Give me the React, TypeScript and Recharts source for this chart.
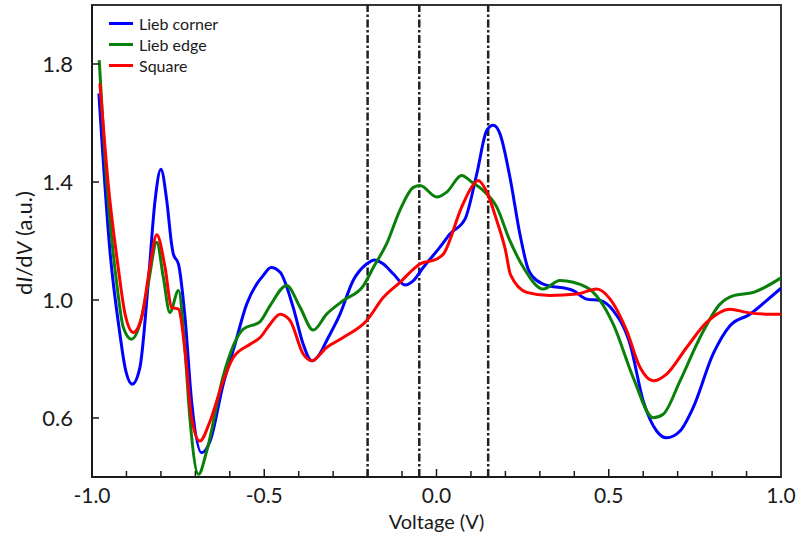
import React from 'react';
import { LineChart, Line, XAxis, YAxis, ReferenceLine, ReferenceArea } from 'recharts';

// voltage (V) / dI/dV (a.u.) pairs
const cornerV = [-0.98, -0.948, -0.919, -0.904, -0.883, -0.861, -0.837, -0.817, -0.8, -0.783, -0.769, -0.764, -0.749, -0.73, -0.711, -0.682, -0.657, -0.619, -0.585, -0.551, -0.522, -0.505, -0.48, -0.454, -0.416, -0.387, -0.362, -0.34, -0.319, -0.28, -0.242, -0.203, -0.179, -0.154, -0.125, -0.091, -0.067, -0.038, 0.01, 0.039, 0.083, 0.117, 0.146, 0.165, 0.184, 0.213, 0.242, 0.266, 0.281, 0.31, 0.397, 0.436, 0.475, 0.513, 0.562, 0.6, 0.639, 0.668, 0.707, 0.745, 0.803, 0.852, 0.91, 0.958, 1.0];
const cornerY = [1.7, 1.167, 0.885, 0.771, 0.715, 0.771, 1.054, 1.337, 1.443, 1.337, 1.19, 1.156, 1.122, 0.941, 0.658, 0.482, 0.522, 0.715, 0.85, 0.986, 1.054, 1.08, 1.11, 1.094, 0.975, 0.85, 0.794, 0.815, 0.862, 0.952, 1.066, 1.122, 1.136, 1.122, 1.088, 1.051, 1.066, 1.111, 1.179, 1.224, 1.275, 1.428, 1.575, 1.592, 1.564, 1.417, 1.224, 1.105, 1.077, 1.054, 1.032, 1.003, 0.998, 0.964, 0.85, 0.658, 0.556, 0.533, 0.556, 0.635, 0.817, 0.913, 0.952, 0.998, 1.04];

const edgeV = [-0.979, -0.957, -0.928, -0.909, -0.885, -0.861, -0.837, -0.812, -0.793, -0.774, -0.749, -0.73, -0.716, -0.691, -0.667, -0.619, -0.561, -0.512, -0.483, -0.435, -0.396, -0.358, -0.319, -0.271, -0.212, -0.183, -0.145, -0.106, -0.067, -0.048, 0.001, 0.03, 0.073, 0.102, 0.136, 0.175, 0.213, 0.252, 0.31, 0.358, 0.436, 0.475, 0.513, 0.571, 0.629, 0.658, 0.707, 0.765, 0.823, 0.862, 0.92, 1.0];
const edgeY = [1.813, 1.394, 1.054, 0.907, 0.867, 0.918, 1.054, 1.196, 1.077, 0.958, 1.032, 0.828, 0.601, 0.409, 0.488, 0.743, 0.901, 0.927, 0.981, 1.049, 0.975, 0.898, 0.952, 0.998, 1.049, 1.111, 1.19, 1.305, 1.382, 1.388, 1.349, 1.366, 1.422, 1.4, 1.371, 1.315, 1.201, 1.111, 1.037, 1.066, 1.043, 0.998, 0.918, 0.737, 0.601, 0.613, 0.726, 0.873, 0.986, 1.015, 1.026, 1.075];

const squareV = [-0.977, -0.953, -0.924, -0.904, -0.88, -0.856, -0.832, -0.812, -0.788, -0.769, -0.749, -0.73, -0.711, -0.687, -0.657, -0.619, -0.59, -0.541, -0.512, -0.483, -0.454, -0.425, -0.387, -0.362, -0.319, -0.271, -0.203, -0.154, -0.106, -0.048, 0.001, 0.02, 0.073, 0.102, 0.121, 0.146, 0.175, 0.2, 0.215, 0.262, 0.329, 0.407, 0.465, 0.504, 0.552, 0.591, 0.629, 0.668, 0.726, 0.784, 0.852, 0.9, 0.958, 1.0];
const squareY = [1.734, 1.394, 1.111, 0.952, 0.89, 0.941, 1.111, 1.221, 1.111, 0.975, 0.969, 0.828, 0.601, 0.522, 0.59, 0.726, 0.805, 0.85, 0.873, 0.918, 0.952, 0.93, 0.817, 0.794, 0.839, 0.873, 0.93, 1.009, 1.06, 1.122, 1.139, 1.156, 1.315, 1.383, 1.405, 1.366, 1.269, 1.17, 1.085, 1.026, 1.015, 1.02, 1.037, 1.003, 0.896, 0.771, 0.726, 0.749, 0.839, 0.924, 0.969, 0.958, 0.952, 0.952];

const markers = [-0.2, -0.05, 0.15];
const xTicks = [-1, -0.9, -0.8, -0.7, -0.6, -0.5, -0.4, -0.3, -0.2, -0.1, 0, 0.1, 0.2, 0.3, 0.4, 0.5, 0.6, 0.7, 0.8, 0.9, 1];
const xLabels = [-1, -0.5, 0, 0.5, 1];
const yTicks = [0.6, 1.0, 1.4, 1.8];

const zip = (vs: number[], ys: number[]) => vs.map((v, i) => ({ v, y: ys[i] }));

const series = [
  { name: 'Lieb corner', color: '#0000ff', data: zip(cornerV, cornerY) },
  { name: 'Lieb edge', color: '#0a800a', data: zip(edgeV, edgeY) },
  { name: 'Square', color: '#ff0000', data: zip(squareV, squareY) },
];

const FONT = 'Lato, "Open Sans", sans-serif';
const INK = '#1a1a1a';

const XTick = (props: any) => {
  const { x, y, payload } = props;
  const v = payload.value;
  const major = xLabels.some((m) => Math.abs(m - v) < 1e-6);
  const edge = Math.abs(Math.abs(v) - 1) < 1e-6;
  return (
    <g>
      {!edge && <line x1={x} x2={x} y1={y} y2={y - (major ? 8 : 6)} stroke={INK} strokeWidth={1.5} />}
      {major && (
        <text x={x} y={y + 26} textAnchor="middle" fontSize={21} fill={INK} fontFamily={FONT}>
          {v.toFixed(1)}
        </text>
      )}
    </g>
  );
};

const YTick = (props: any) => {
  const { x, y, payload } = props;
  return (
    <g>
      <line x1={x} x2={x + 7} y1={y} y2={y} stroke={INK} strokeWidth={1.5} />
      <text x={x - 19} y={y + 8} textAnchor="end" fontSize={22} fill={INK} fontFamily={FONT}>
        {payload.value.toFixed(1)}
      </text>
    </g>
  );
};

const XLabel = (props: any) => {
  const { x, y, width } = props.viewBox;
  return (
    <text x={x + width / 2} y={y + 52} textAnchor="middle" fontSize={20} fill={INK} fontFamily={FONT}>
      Voltage (V)
    </text>
  );
};

const YLabel = (props: any) => {
  const { y, height } = props.viewBox;
  const cy = y + height / 2 + 2;
  return (
    <text
      x={23}
      y={cy}
      transform={`rotate(-90, 23, ${cy})`}
      textAnchor="middle"
      dominantBaseline="central"
      fontSize={22}
      fill={INK}
      fontFamily={FONT}
    >
      d<tspan fontStyle="italic">I</tspan>/d<tspan fontStyle="italic">V</tspan> (a.u.)
    </text>
  );
};

const LegendBox = () => (
  <div
    style={{
      position: 'absolute',
      left: 109,
      top: 13,
      fontFamily: FONT,
      fontSize: 16,
      color: INK,
      lineHeight: '21px',
    }}
  >
    {series.map((s) => (
      <div key={s.name} style={{ display: 'flex', alignItems: 'center' }}>
        <span style={{ display: 'inline-block', width: 24, height: 3, background: s.color, marginRight: 6 }} />
        {s.name}
      </div>
    ))}
  </div>
);

export default function App() {
  return (
    <div style={{ position: 'absolute', left: 0, top: 0, width: 801, height: 543, background: '#fff' }}>
      <LineChart width={801} height={543} margin={{ top: 5, right: 20, bottom: 26, left: 32 }}>
        <XAxis
          type="number"
          dataKey="v"
          domain={[-1, 1]}
          ticks={xTicks}
          interval={0}
          allowDataOverflow
          height={40}
          tickSize={0}
          tickMargin={0}
          tickLine={false}
          tick={<XTick />}
          axisLine={{ stroke: INK, strokeWidth: 2 }}
          label={<XLabel />}
        />
        <YAxis
          type="number"
          dataKey="y"
          domain={[0.4, 2.0]}
          ticks={yTicks}
          interval={0}
          allowDataOverflow
          width={60}
          tickSize={0}
          tickMargin={0}
          tickLine={false}
          tick={<YTick />}
          axisLine={{ stroke: INK, strokeWidth: 2 }}
          label={<YLabel />}
        />
        <ReferenceArea x1={-1} x2={1} y1={0.4} y2={2.0} fill="none" stroke="#333" strokeWidth={2} ifOverflow="visible" />
        {markers.map((m) => (
          <ReferenceLine key={m} x={m} stroke="#222" strokeWidth={2.5} strokeDasharray="8 2.5 2.5 2.5" />
        ))}
        {series.map((s) => (
          <Line
            key={s.name}
            data={s.data}
            dataKey="y"
            name={s.name}
            type="monotone"
            stroke={s.color}
            strokeWidth={3}
            dot={false}
            isAnimationActive={false}
          />
        ))}
      </LineChart>
      <LegendBox />
    </div>
  );
}
